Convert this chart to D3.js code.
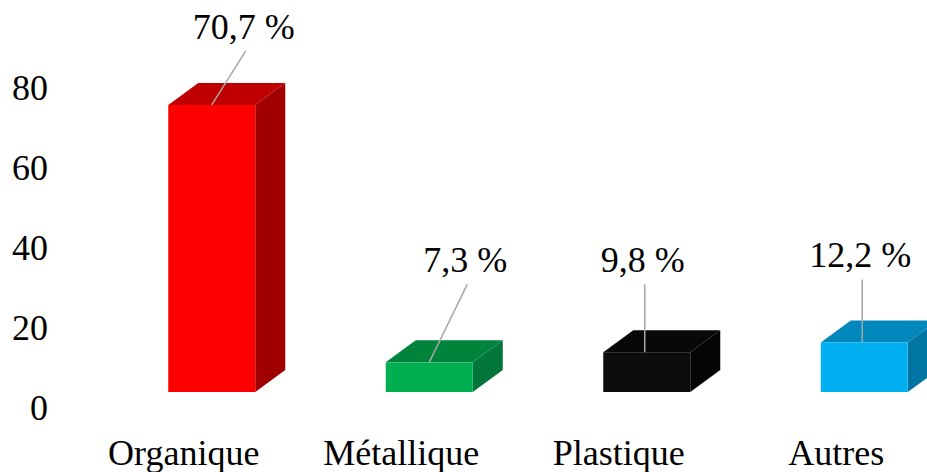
<!DOCTYPE html>
<html>
<head>
<meta charset="utf-8">
<script src="https://cdn.jsdelivr.net/npm/d3@7"></script>
<style>
  html, body { margin: 0; padding: 0; background: #fff; }
  svg { display: block; }
</style>
</head>
<body>
<svg id="chart" width="927" height="472"></svg>
<script>
// ---- data ----
const categories = ["Organique", "Métallique", "Plastique", "Autres"];
const values = [70.7, 7.3, 9.8, 12.2];
const valueLabels = ["70,7 %", "7,3 %", "9,8 %", "12,2 %"];
const tickValues = [0, 20, 40, 60, 80];
const frontColors = ["#FF0000", "#00B050", "#0D0D0D", "#00B0F0"];
const topColors = ["#C00000", "#00843C", "#080808", "#0088BC"];
const sideColors = ["#A00000", "#00763A", "#050505", "#0074A2"];

// ---- layout (not data) ----
const FONT = "'Liberation Serif', 'Times New Roman', Tinos, 'DejaVu Serif', serif";
const depthX = 30, depthY = -22;
const fontSize = 36;
// manual label placements relative to bar top-centre (as in the reference)
const labelOffsets = [[32, -66], [36, -90], [-4, -80], [-4, -75]];

const svg = d3.select("#chart");

const x = d3.scaleBand()
  .domain(categories)
  .range([103, 973])
  .paddingInner(0.6)
  .paddingOuter(0.3);

const y = d3.scaleLinear().domain([0, 80]).range([392, 392 - 80 * 4.06]);
const yAxisScale = d3.scaleLinear().domain([0, 80]).range([407, 87]);

// ---- axis labels (no axis line) ----
const axisG = svg.append("g").attr("transform", "translate(48,0)")
  .call(d3.axisLeft(yAxisScale).tickValues(tickValues).tickSize(0).tickPadding(0).tickFormat(d3.format("d")));
axisG.select(".domain").remove();
axisG.attr("font-family", null).attr("font-size", null);
axisG.selectAll("text")
  .style("font-family", FONT)
  .style("font-size", fontSize + "px")
  .attr("fill", "#000")
  .attr("dy", "0.35em")
  .attr("x", 0);

// ---- bars ----
const data = categories.map((c, i) => ({ c, v: values[i], i }));
const bars = svg.append("g").selectAll("g").data(data).join("g");

bars.each(function (d) {
  const g = d3.select(this);
  const x0 = x(d.c), x1 = x0 + x.bandwidth();
  const yt = y(d.v), yb = y(0);
  g.append("polygon")
    .attr("points", [[x1, yt], [x1 + depthX, yt + depthY], [x1 + depthX, yb + depthY], [x1, yb]].join(" "))
    .attr("fill", sideColors[d.i]);
  g.append("polygon")
    .attr("points", [[x0, yt], [x0 + depthX, yt + depthY], [x1 + depthX, yt + depthY], [x1, yt]].join(" "))
    .attr("fill", topColors[d.i]);
  g.append("rect")
    .attr("x", x0).attr("y", yt)
    .attr("width", x.bandwidth()).attr("height", yb - yt)
    .attr("fill", frontColors[d.i]);
});

// ---- value labels with leader lines ----
const lbl = svg.append("g");
data.forEach(d => {
  const cx = x(d.c) + x.bandwidth() / 2;
  const yt = y(d.v);
  const [dx, dy] = labelOffsets[d.i];
  const lx = cx + dx, ly = yt + dy;
  const endX = Math.abs(dx) < 10 ? lx + 2 : cx;
  lbl.append("line")
    .attr("x1", lx + 2).attr("y1", ly + 12)
    .attr("x2", endX).attr("y2", yt)
    .attr("stroke", "#A6A6A6").attr("stroke-width", 1.5);
  lbl.append("text")
    .attr("x", lx).attr("y", ly)
    .attr("text-anchor", "middle")
    .style("font-family", FONT)
    .style("font-size", fontSize + "px")
    .attr("fill", "#000")
    .text(valueLabels[d.i]);
});

// ---- category labels ----
svg.append("g").selectAll("text").data(categories).join("text")
  .attr("x", c => x(c) + x.bandwidth() / 2 - 28)
  .attr("y", 465)
  .attr("text-anchor", "middle")
  .style("font-family", FONT)
  .style("font-size", fontSize + "px")
  .attr("fill", "#000")
  .text(c => c);
</script>
</body>
</html>
